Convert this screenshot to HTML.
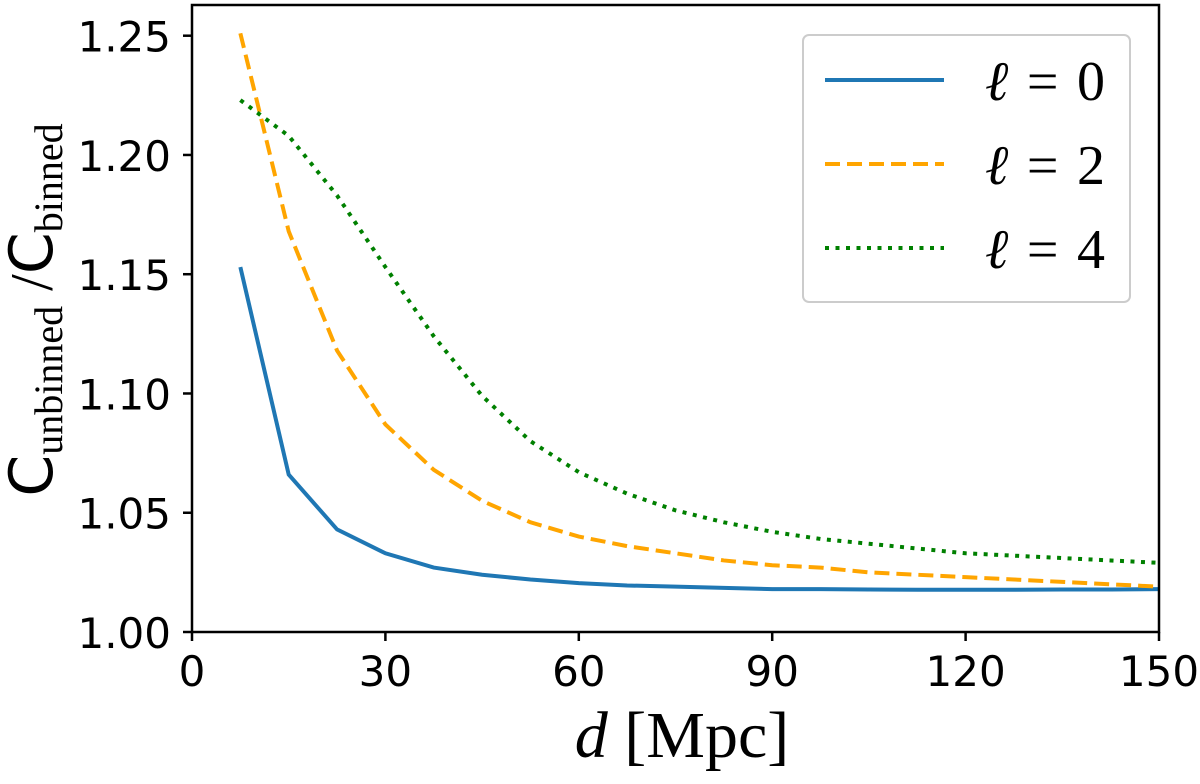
<!DOCTYPE html>
<html><head><meta charset="utf-8"><style>
body{margin:0;background:#fff}
</style></head><body>
<svg id="chart" width="1200" height="779" viewBox="0 0 1200 779" xmlns="http://www.w3.org/2000/svg">
<g id="marks"></g>
<rect x="192" y="5" width="967" height="627" fill="none" stroke="#000" stroke-width="2.5"/>
<g id="ticks" style="font-family:'DejaVu Sans','Liberation Sans',sans-serif"></g>
<text transform="translate(52 310) rotate(-90)" text-anchor="middle"><tspan style="font-family:'DejaVu Sans',sans-serif;font-size:60px">C</tspan><tspan style="font-family:'Liberation Serif',serif;font-size:40px" dy="10">unbinned</tspan><tspan style="font-family:'Liberation Serif',serif;font-size:60px" dy="-10"> /</tspan><tspan style="font-family:'DejaVu Sans',sans-serif;font-size:60px">C</tspan><tspan style="font-family:'Liberation Serif',serif;font-size:40px" dy="10">binned</tspan></text>
<text x="682" y="757" text-anchor="middle" style="font-family:'Liberation Serif',serif;font-size:66px"><tspan font-style="italic">d</tspan> [Mpc]</text>
<g>
<rect x="803" y="35" width="327" height="267" rx="6" fill="#fff" stroke="#ccc" stroke-width="2"/>
<line x1="825" y1="80" x2="944" y2="80" stroke="#1f77b4" stroke-width="4"/>
<text x="985" y="100" textLength="120" lengthAdjust="spacing" style="font-family:'Liberation Serif','DejaVu Serif',serif;font-size:56px"><tspan font-style="italic">ℓ</tspan> = 0</text>
<line x1="825" y1="164" x2="944" y2="164" stroke="#ffa500" stroke-width="4" stroke-dasharray="15,7"/>
<text x="985" y="184" textLength="120" lengthAdjust="spacing" style="font-family:'Liberation Serif','DejaVu Serif',serif;font-size:56px"><tspan font-style="italic">ℓ</tspan> = 2</text>
<line x1="825" y1="248" x2="944" y2="248" stroke="#008000" stroke-width="4" stroke-dasharray="4,6.5"/>
<text x="985" y="268" textLength="120" lengthAdjust="spacing" style="font-family:'Liberation Serif','DejaVu Serif',serif;font-size:56px"><tspan font-style="italic">ℓ</tspan> = 4</text>
</g>
</svg>
<script>
const dValues=[7.5,15,22.5,30,37.5,45,52.5,60,67.5,75,82.5,90,97.5,105,112.5,120,127.5,135,142.5,150];
const ell0=[1.153,1.066,1.043,1.033,1.027,1.024,1.022,1.0205,1.0195,1.019,1.0185,1.018,1.018,1.0178,1.0177,1.0177,1.0177,1.0178,1.0178,1.018];
const ell2=[1.251,1.168,1.118,1.087,1.068,1.055,1.046,1.040,1.036,1.033,1.030,1.028,1.027,1.025,1.024,1.023,1.022,1.021,1.020,1.019];
const ell4=[1.223,1.208,1.183,1.153,1.124,1.099,1.080,1.067,1.058,1.051,1.046,1.042,1.039,1.037,1.035,1.033,1.032,1.031,1.030,1.029];
const xTicks=[0,30,60,90,120,150];
const yTicks=[1.00,1.05,1.10,1.15,1.20,1.25];
const yTickLabels=["1.00","1.05","1.10","1.15","1.20","1.25"];
const NS="http://www.w3.org/2000/svg";
function xS(v){return 192+v*(1159-192)/150;}
function yS(v){return 632-(v-1)*(632-35.7)/0.25;}
const marks=document.getElementById('marks'),ticks=document.getElementById('ticks');
function series(vals,color,dash,name){
  const p=document.createElementNS(NS,'polyline');
  p.setAttribute('points',vals.map((v,i)=>xS(dValues[i])+','+yS(v)).join(' '));
  p.setAttribute('fill','none');p.setAttribute('stroke',color);p.setAttribute('stroke-width','4');
  if(dash)p.setAttribute('stroke-dasharray',dash);
  
  
  marks.appendChild(p);
}
series(ell0,'#1f77b4',null,'series-l0');
series(ell2,'#ffa500','15,7','series-l2');
series(ell4,'#008000','4,6.5','series-l4');
xTicks.forEach(t=>{
  const l=document.createElementNS(NS,'line');
  l.setAttribute('x1',xS(t));l.setAttribute('x2',xS(t));l.setAttribute('y1',632);l.setAttribute('y2',641);
  l.setAttribute('stroke','#000');l.setAttribute('stroke-width','2.5');
  
  
  ticks.appendChild(l);
  const tx=document.createElementNS(NS,'text');
  tx.setAttribute('x',xS(t));tx.setAttribute('y',686);tx.setAttribute('text-anchor','middle');tx.setAttribute('font-size','42');
  tx.textContent=t;
  
  
  ticks.appendChild(tx);
});
yTicks.forEach((t,i)=>{
  const l=document.createElementNS(NS,'line');
  l.setAttribute('x1',183);l.setAttribute('x2',192);l.setAttribute('y1',yS(t));l.setAttribute('y2',yS(t));
  l.setAttribute('stroke','#000');l.setAttribute('stroke-width','2.5');
  
  
  ticks.appendChild(l);
  const tx=document.createElementNS(NS,'text');
  tx.setAttribute('x',171);tx.setAttribute('y',yS(t)+16);tx.setAttribute('text-anchor','end');tx.setAttribute('font-size','42');
  tx.textContent=yTickLabels[i];
  
  
  ticks.appendChild(tx);
});
</script>
</body></html>
